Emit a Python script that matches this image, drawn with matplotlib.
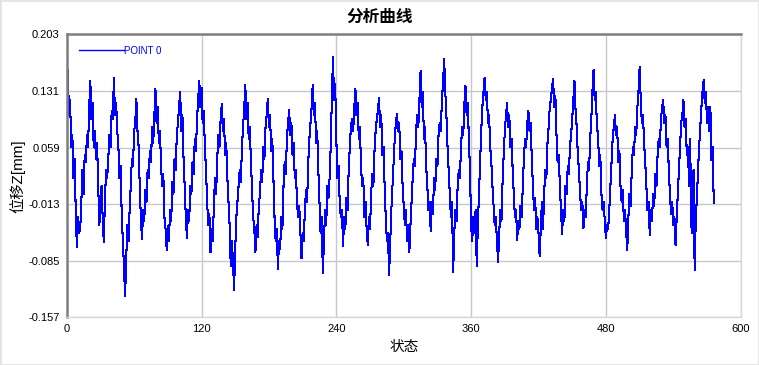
import numpy as np
import matplotlib.pyplot as plt
from matplotlib.patches import Rectangle

plt.rcParams['font.family'] = ['Liberation Sans', 'Noto Sans CJK SC', 'DejaVu Sans']

# 位移数据 (每行约一个周期)
pos_z = [
    -0.010,
    0.158, 0.100, 0.120, 0.060, 0.075, 0.020, 0.045, -0.020,
    -0.067, -0.030, -0.050, -0.045, -0.010, 0.030, 0.000, 0.050, 0.040, 0.075, 0.060, 0.110,
    0.144, 0.095, 0.115, 0.060, 0.080, 0.045, 0.065, 0.010, -0.040, -0.020, 0.010, -0.030,
    -0.061, -0.010, 0.030, 0.020, 0.045, 0.075, 0.060, 0.105, 0.095,
    0.147, 0.100, 0.115, 0.080, 0.060, 0.020, 0.035, -0.030, -0.060, -0.095,
    -0.130, -0.080, -0.040, -0.060, -0.020, 0.010, 0.045, 0.035, 0.080, 0.090,
    0.121, 0.080, 0.060, 0.010, -0.030,
    -0.058, -0.020, -0.035, 0.005, -0.010, 0.030, 0.020, 0.055, 0.040, 0.085, 0.065, 0.100,
    0.133, 0.090, 0.110, 0.065, 0.080, 0.035, 0.010, 0.025, -0.030, -0.045,
    -0.071, -0.041, -0.060, -0.020, -0.035, 0.015, 0.000, 0.045, 0.030, 0.075, 0.090, 0.110,
    0.130, 0.080, 0.100, 0.045, 0.010, -0.030,
    -0.056, -0.020, -0.035, 0.010, 0.000, 0.040, 0.025, 0.070, 0.055, 0.095, 0.120,
    0.144, 0.110, 0.135, 0.090, 0.105, 0.060, 0.030, -0.010, -0.040, -0.025,
    -0.074, -0.045, -0.060, -0.015, 0.020, 0.000, 0.045, 0.075, 0.060, 0.095,
    0.114, 0.080, 0.095, 0.050, 0.065, 0.020, -0.010, -0.040, -0.092, -0.060, -0.085,
    -0.122, -0.070, -0.030, -0.010, 0.010, 0.030, 0.015, 0.060, 0.085, 0.110,
    0.138, 0.095, 0.115, 0.070, 0.085, 0.040, 0.005, -0.030, -0.045,
    -0.074, -0.040, -0.055, -0.015, 0.000, 0.030, 0.015, 0.060, 0.045, 0.085, 0.100,
    0.121, 0.085, 0.100, 0.055, 0.070, 0.020, -0.030, -0.060, -0.045,
    -0.095, -0.060, -0.070, -0.030, -0.045, 0.010, 0.040, 0.025, 0.070, 0.090,
    0.107, 0.075, 0.090, 0.050, 0.065, 0.020, 0.030, -0.010, -0.030, -0.015, -0.050,
    -0.082, -0.050, -0.060, -0.020, 0.005, -0.010, 0.040, 0.070, 0.090, 0.110,
    0.139, 0.100, 0.115, 0.065, 0.080, 0.030, -0.010, -0.050, -0.030,
    -0.101, -0.060, -0.020, -0.040, 0.010, -0.005, 0.020, 0.060, 0.120,
    0.174, 0.120, 0.140, 0.070, 0.020, 0.035, -0.010, -0.030, -0.020,
    -0.066, -0.030, -0.045, -0.005, -0.020, 0.030, 0.060, 0.085, 0.095, 0.080, 0.110,
    0.134, 0.100, 0.115, 0.070, 0.085, 0.035, 0.010, 0.020, -0.030, -0.010, -0.045,
    -0.065, -0.030, -0.045, 0.000, 0.025, 0.010, 0.055, 0.080, 0.095, 0.105,
    0.122, 0.085, 0.100, 0.050, 0.060, 0.010, -0.030, -0.060, -0.050,
    -0.103, -0.060, -0.020, 0.010, 0.040, 0.070, 0.090,
    0.102, 0.080, 0.090, 0.045, 0.055, 0.010, -0.015, -0.040, -0.020, -0.060, -0.040,
    -0.074, -0.040, -0.010, 0.020, 0.045, 0.035, 0.080, 0.100, 0.085, 0.120,
    0.156, 0.110, 0.130, 0.070, 0.085, 0.035, 0.010, -0.020, -0.010,
    -0.047, -0.010, -0.025, 0.020, 0.005, 0.045, 0.035, 0.075, 0.090, 0.080, 0.120, 0.140,
    0.172, 0.130, 0.100, 0.060, 0.030, 0.000, -0.030, -0.010,
    -0.100, -0.050, -0.020, -0.035, 0.010, 0.030, 0.020, 0.060, 0.085, 0.075, 0.115,
    0.137, 0.100, 0.115, 0.070, 0.030, -0.040, -0.060, -0.030, -0.050, -0.020,
    -0.092, -0.040, 0.000, 0.040, 0.080, 0.110, 0.130,
    0.148, 0.120, 0.130, 0.090, 0.100, 0.060, 0.040, 0.010, -0.015, -0.040, -0.030, -0.060,
    -0.087, -0.050, -0.020, -0.035, 0.015, 0.050, 0.080, 0.100,
    0.115, 0.085, 0.100, 0.060, 0.070, 0.030, 0.000, -0.030, -0.020,
    -0.059, -0.035, -0.045, -0.015, -0.030, 0.010, 0.045, 0.070, 0.060, 0.090,
    0.105, 0.080, 0.090, 0.045, 0.010, -0.020, -0.005, -0.045, -0.030, -0.050,
    -0.079, -0.045, -0.010, -0.045, 0.000, 0.030, 0.020, 0.065, 0.085, 0.110, 0.120, 0.135,
    0.146, 0.110, 0.125, 0.075, 0.040, 0.050, 0.010, -0.020,
    -0.051, -0.020, -0.035, 0.010, 0.000, 0.035, 0.025, 0.060, 0.075, 0.095, 0.120,
    0.144, 0.105, 0.085, 0.050, 0.030, 0.000, -0.020, -0.010,
    -0.044, -0.020, -0.030, 0.010, 0.040, 0.030, 0.070, 0.095, 0.130,
    0.158, 0.120, 0.130, 0.085, 0.075, 0.035, 0.050, 0.000, -0.020, -0.010, -0.035,
    -0.056, -0.040, -0.045, -0.020, 0.010, 0.040, 0.070, 0.085,
    0.100, 0.075, 0.085, 0.040, 0.055, 0.010, -0.010, 0.005, -0.035, -0.020, -0.045,
    -0.072, -0.030, 0.000, -0.015, 0.030, 0.060, 0.050, 0.085, 0.075, 0.110, 0.130,
    0.161, 0.120, 0.090, 0.100, 0.065, 0.040, 0.010, -0.020, -0.010,
    -0.052, -0.020, -0.035, 0.000, -0.015, 0.025, 0.010, 0.050, 0.070, 0.060, 0.095, 0.110,
    0.119, 0.090, 0.100, 0.060, 0.070, 0.030, 0.000, -0.025, -0.010, -0.040, -0.030,
    -0.065, -0.030, 0.000, 0.030, 0.060, 0.090, 0.100,
    0.119, 0.085, 0.095, 0.050, 0.060, 0.010, 0.070, -0.040, -0.050, 0.030,
    -0.097, -0.030, -0.005, 0.030, 0.060, 0.085, 0.110, 0.130,
    0.145, 0.115, 0.130, 0.090, 0.110, 0.080, 0.110, 0.043, 0.060, -0.012,
]

x_ticks = [0, 120, 240, 360, 480, 600]
y_ticks = [-0.157, -0.085, -0.013, 0.059, 0.131, 0.203]

fig = plt.figure(figsize=(7.59, 3.65), dpi=100)
fig.patches.append(Rectangle((0, 0), 1, 1, transform=fig.transFigure,
                             fill=False, edgecolor='#e3e3e3', lw=2))
ax = fig.add_axes([0.0879, 0.1307, 0.888, 0.7753])

x = np.arange(len(pos_z))
ax.plot(x, pos_z, color='#0000ff', lw=0.75, marker='s', markersize=1.5,
        markeredgewidth=0, antialiased=False, label='POINT 0')

ax.set_xlim(0, 600)
ax.set_ylim(-0.157, 0.203)
ax.set_xticks(x_ticks)
ax.set_yticks(y_ticks)
ax.set_yticklabels(['%.3f' % v for v in y_ticks])
ax.tick_params(length=0, labelsize=8, pad=5)
ax.grid(True, color='#c8c8c8', lw=1)
ax.set_axisbelow(True)

for s in ['top', 'left']:
    ax.spines[s].set_color('#7f7f7f')
    ax.spines[s].set_linewidth(1.8)
for s in ['bottom', 'right']:
    ax.spines[s].set_color('#d8d8d8')
    ax.spines[s].set_linewidth(1.0)

# 标题居中于整张图
fig.text(0.5, 0.953, '分析曲线', fontsize=12, fontweight='bold',
         ha='center', va='center')
ax.set_ylabel('位移Z[mm]', fontsize=11, labelpad=2)
ax.set_xlabel('状态', fontsize=10.5, labelpad=4)

leg = ax.legend(loc='upper left', bbox_to_anchor=(0.005, 0.99), frameon=False,
                fontsize=7, handlelength=4.6, handletextpad=0.0,
                labelcolor='#0000ff')
for h in leg.legend_handles:
    h.set_marker('')
    h.set_linewidth(1.0)

fig.savefig('out.png', dpi=100, facecolor='white')
